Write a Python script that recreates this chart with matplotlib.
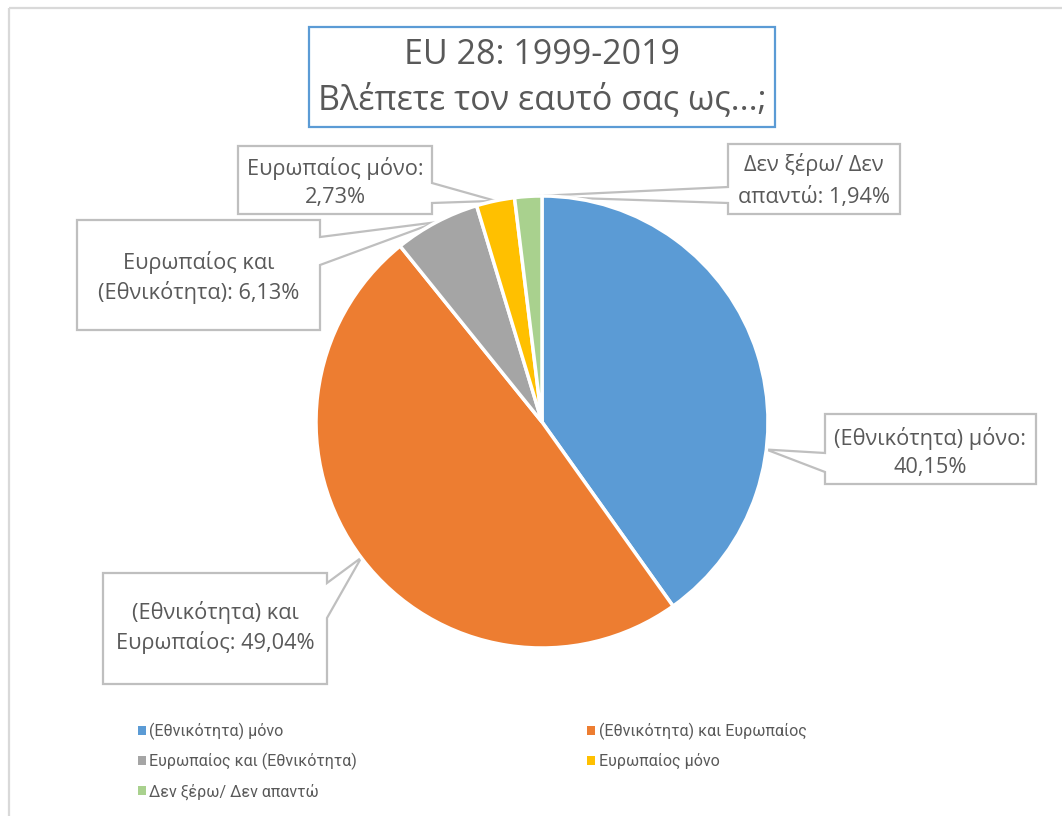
import matplotlib
matplotlib.use("Agg")
import matplotlib.pyplot as plt
from matplotlib.patches import Polygon, Rectangle
import numpy as np

plt.rcParams['font.family'] = ['Open Sans', 'DejaVu Sans']

# ---- data ----
categories = ["(Εθνικότητα) μόνο", "(Εθνικότητα) και Ευρωπαίος",
              "Ευρωπαίος και (Εθνικότητα)", "Ευρωπαίος μόνο", "Δεν ξέρω/ Δεν απαντώ"]
values = [40.15, 49.04, 6.13, 2.73, 1.94]
label_lines = [["(Εθνικότητα) μόνο:", "40,15%"],
               ["(Εθνικότητα) και", "Ευρωπαίος: 49,04%"],
               ["Ευρωπαίος και", "(Εθνικότητα): 6,13%"],
               ["Ευρωπαίος μόνο:", "2,73%"],
               ["Δεν ξέρω/ Δεν", "απαντώ: 1,94%"]]
colors = ["#5B9BD5", "#ED7D31", "#A5A5A5", "#FFC000", "#A9D18E"]
title_lines = ["EU 28: 1999-2019", "Βλέπετε τον εαυτό σας ως...;"]

W, H = 1062, 816
fig = plt.figure(figsize=(W / 100, H / 100), dpi=100)
fig.patch.set_facecolor("white")

# background overlay in pixel coordinates (y down)
bg = fig.add_axes([0, 0, 1, 1])
bg.set_xlim(0, W)
bg.set_ylim(H, 0)
bg.axis("off")

# pie axes
cx, cy, R = 542, 422, 226
pie_ax = fig.add_axes([(cx - R) / W, (H - cy - R) / H, 2 * R / W, 2 * R / H])
wedges, _ = pie_ax.pie(values, colors=colors, startangle=90, counterclock=False,
                       wedgeprops=dict(edgecolor="white", linewidth=2.5))
pie_ax.set_xlim(-1, 1)
pie_ax.set_ylim(-1, 1)
pie_ax.set_aspect("equal")
pie_ax.axis("off")

# outer frame lines
bg.plot([9, W], [7.5, 7.5], color="#D9D9D9", lw=1.6, solid_capstyle="butt")
bg.plot([9, 9], [7.5, H], color="#D9D9D9", lw=1.6, solid_capstyle="butt")

# title box
bg.add_patch(Rectangle((309, 27), 466, 100, fill=True, facecolor="white",
                       edgecolor="#5B9BD5", lw=1.6))
bg.text(542, 55, title_lines[0], ha="center", va="center", fontsize=24.5, color="#595959")
bg.text(542, 100, title_lines[1], ha="center", va="center", fontsize=24.5, color="#595959")

# tip angles: wedge mid angles from data, except the two large wedges
cum = np.cumsum([0] + values)
mid_angles = [90 - 360 * (cum[i] + values[i] / 2) / sum(values) for i in range(len(values))]
tip_angles = [-7, 216.9, mid_angles[2], mid_angles[3], mid_angles[4]]


def tip_px(ang):
    p = pie_ax.transData.transform((np.cos(np.radians(ang)), np.sin(np.radians(ang))))
    return bg.transData.inverted().transform(p)


boxes = [  # x0, y0, x1, y1, side, a, b
    (825, 414, 1036, 484, "left", 453, 472),
    (103, 573, 327, 684, "right", 583, 618),
    (77, 220, 320, 330, "right", 237, 265),
    (238, 146, 432, 214, "right", 183, 203),
    (728, 144, 900, 214, "left", 187, 203),
]
line_y = [(438, 467), (612, 643), (262, 293), (168, 197), (165, 197)]

for i, (x0, y0, x1, y1, side, a, b) in enumerate(boxes):
    tx, ty = tip_px(tip_angles[i])
    if side == "right":
        verts = [(x0, y0), (x1, y0), (x1, a), (tx, ty), (x1, b), (x1, y1), (x0, y1)]
    else:
        verts = [(x0, y0), (x1, y0), (x1, y1), (x0, y1), (x0, b), (tx, ty), (x0, a)]
    bg.add_patch(Polygon(verts, closed=True, facecolor="white", edgecolor="#BFBFBF",
                         lw=1.6, joinstyle="miter", zorder=3))
    xc = (x0 + x1) / 2
    for ln, yy in zip(label_lines[i], line_y[i]):
        bg.text(xc, yy, ln, ha="center", va="center", fontsize=15.7, color="#595959", zorder=4)

# legend (row-wise order)
order = [0, 2, 4, 1, 3]
leg = fig.legend([wedges[k] for k in order], [categories[k] for k in order],
                 ncol=2, loc="upper left", bbox_to_anchor=(125 / W, 1 - 710 / H),
                 frameon=False,
                 prop=dict(family=['Roboto', 'Open Sans'], size=11.5),
                 handlelength=0.5, handleheight=0.5,
                 handletextpad=0.22, columnspacing=14.4, labelspacing=0.82,
                 labelcolor="#595959", borderpad=0.3)
for h in leg.legend_handles:
    h.set_edgecolor("none")

fig.savefig("out.png", dpi=100)
